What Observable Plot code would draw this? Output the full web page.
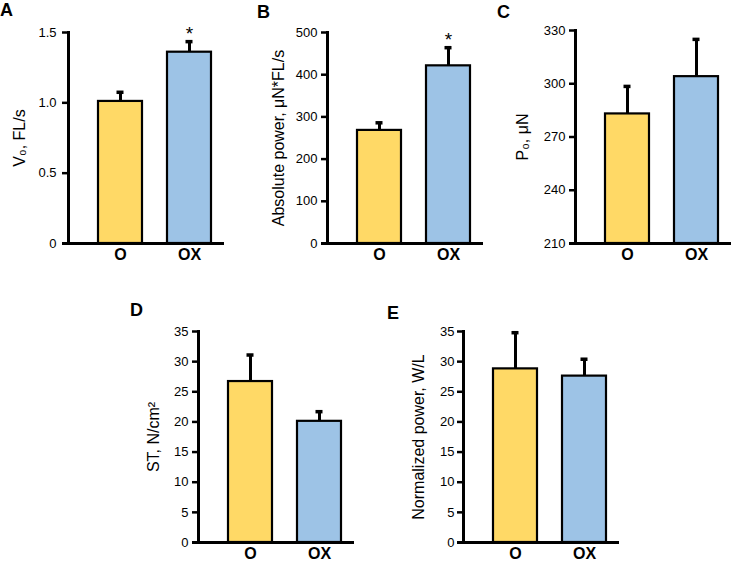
<!DOCTYPE html>
<html>
<head>
<meta charset="utf-8">
<script src="https://cdn.jsdelivr.net/npm/d3@7"></script>
<script src="https://cdn.jsdelivr.net/npm/@observablehq/plot@0.6"></script>
<style>
  html, body { margin: 0; padding: 0; background: #fff; }
  #fig { position: relative; width: 733px; height: 561px; background: #fff; overflow: hidden;
         font-family: "Liberation Sans", Arial, sans-serif; color: #000; }
  .letter { position: absolute; font-size: 18px; font-weight: bold; line-height: 18px; }
</style>
</head>
<body>
<div id="fig"></div>
<script>
// ---- data ----
const groups = ["O", "OX"];
const colors = ["#FFD966", "#9DC3E6"];

const v0 = [1.01, 1.36];
const v0Err = [0.065, 0.075];
const absPower = [268, 421];
const absPowerErr = [18, 43];
const p0 = [283, 304];
const p0Err = [15.5, 21];
const st = [26.7, 20.1];
const stErr = [4.4, 1.6];
const normPower = [28.8, 27.6];
const normPowerErr = [6.0, 2.8];

const sigAB = ["", "*"];
const noSig = ["", ""];

const v0Ticks = [0, 0.5, 1.0, 1.5];
const powerTicks = [0, 100, 200, 300, 400, 500];
const p0Ticks = [210, 240, 270, 300, 330];
const stTicks = [0, 5, 10, 15, 20, 25, 30, 35];
const normTicks = [0, 5, 10, 15, 20, 25, 30, 35];

const titles = ["V\u2080, FL/s", "Absolute power, \u03bcN*FL/s", "P\u2080, \u03bcN", "ST, N/cm\u00b2", "Normalized power, W/L"];
const letters = ["A", "B", "C", "D", "E"];

// ---- drawing ----
const fig = document.getElementById("fig");

function panel({values, errs, sig, ticks, fmt, title, axisX, top, plotTop, bottom, labelOffset, tickPadding}) {
  const rows = groups.map((g, i) => ({g, v: values[i], e: errs[i], s: sig[i]}));
  const ymin = ticks[0], ymax = ticks[ticks.length - 1];
  const mL = 70, W = 156, mR = 4, mB = 26;
  const svg = Plot.plot({
    width: mL + W + mR,
    height: bottom - top + mB,
    marginLeft: mL, marginRight: mR, marginTop: plotTop - top, marginBottom: mB,
    style: {fontFamily: "'Liberation Sans', Arial, sans-serif", fontSize: "13px", color: "#000", background: "transparent", overflow: "visible"},
    x: {domain: groups, paddingInner: 0.36, paddingOuter: 0.3, align: 0.7},
    y: {domain: [ymin, ymax]},
    color: {domain: groups, range: colors},
    marks: [
      Plot.barY(rows, {x: "g", y1: () => ymin, y2: "v", fill: "g", stroke: "#000", strokeWidth: 2.2}),
      Plot.ruleX(rows, {x: "g", y1: "v", y2: d => d.v + d.e, stroke: "#000", strokeWidth: 3}),
      Plot.tickY(rows, {x: "g", y: d => d.v + d.e, stroke: "#000", strokeWidth: 3.5, insetLeft: 18.5, insetRight: 18.5}),
      Plot.text(rows, {x: "g", y: d => d.v + d.e, text: "s", dy: -8, fontSize: 19, fill: "#000"}),
      Plot.axisY({ticks, tickFormat: fmt, tickSize: 6, tickPadding, strokeWidth: 2.5, fontSize: 13, label: null}),
      Plot.axisY({ticks: [], label: title, labelArrow: "none", labelAnchor: "center", labelOffset, fontSize: 16}),
      Plot.axisX({tickSize: 0, tickPadding: 5, fontSize: 16, fontWeight: "bold", label: null}),
      Plot.frame({anchor: "left", stroke: "#000", strokeWidth: 3}),
      Plot.ruleY([ymin], {stroke: "#000", strokeWidth: 3, insetLeft: -6})
    ]
  });
  svg.style.position = "absolute";
  svg.style.left = (axisX - mL) + "px";
  svg.style.top = top + "px";
  fig.appendChild(svg);
}

const fmt1 = d => d === 0 ? "0" : d.toFixed(1);
const fmt0 = d => String(d);

panel({values: v0, errs: v0Err, sig: sigAB, ticks: v0Ticks, fmt: fmt1, title: titles[0],
       axisX: 68, top: 0, plotTop: 32, bottom: 243, labelOffset: 55, tickPadding: 6});
panel({values: absPower, errs: absPowerErr, sig: sigAB, ticks: powerTicks, fmt: fmt0, title: titles[1],
       axisX: 327, top: 0, plotTop: 32, bottom: 243, labelOffset: 55, tickPadding: 4});
panel({values: p0, errs: p0Err, sig: noSig, ticks: p0Ticks, fmt: fmt0, title: titles[2],
       axisX: 575, top: 0, plotTop: 30, bottom: 243, labelOffset: 59, tickPadding: 4});
panel({values: st, errs: stErr, sig: noSig, ticks: stTicks, fmt: fmt0, title: titles[3],
       axisX: 198, top: 290, plotTop: 331, bottom: 542, labelOffset: 51, tickPadding: 4});
panel({values: normPower, errs: normPowerErr, sig: noSig, ticks: normTicks, fmt: fmt0, title: titles[4],
       axisX: 463, top: 290, plotTop: 331, bottom: 542, labelOffset: 51, tickPadding: 3});

const letterPos = [[0, 1], [257, 3], [497, 3], [130, 301], [387, 304]];
letters.forEach((t, i) => {
  const el = document.createElement("div");
  el.className = "letter";
  el.textContent = t;
  el.style.left = letterPos[i][0] + "px";
  el.style.top = letterPos[i][1] + "px";
  fig.appendChild(el);
});
</script>
</body>
</html>
